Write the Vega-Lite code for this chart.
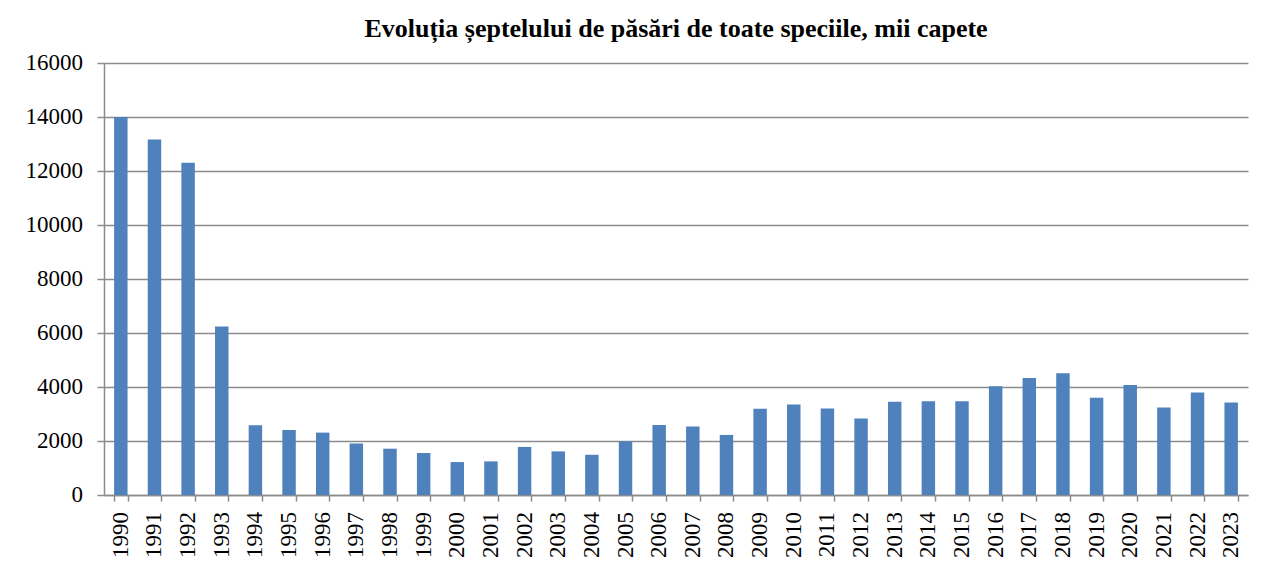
{
  "$schema": "https://vega.github.io/schema/vega-lite/v6.json",
  "width": 1144,
  "height": 432,
  "padding": {"left": 25, "top": 16, "right": 10, "bottom": 5},
  "background": "white",
  "title": {
    "text": "Evoluția șeptelului de păsări de toate speciile, mii capete",
    "font": "'Liberation Serif', 'Times New Roman', serif",
    "fontSize": 26,
    "fontWeight": "bold",
    "color": "black",
    "anchor": "middle",
    "offset": 10
  },
  "datasets": {
    "pasari": [
      {"an": "1990", "v": 14000},
      {"an": "1991", "v": 13170},
      {"an": "1992", "v": 12310},
      {"an": "1993", "v": 6240},
      {"an": "1994", "v": 2580},
      {"an": "1995", "v": 2410},
      {"an": "1996", "v": 2310},
      {"an": "1997", "v": 1910},
      {"an": "1998", "v": 1715},
      {"an": "1999", "v": 1555},
      {"an": "2000", "v": 1220},
      {"an": "2001", "v": 1245},
      {"an": "2002", "v": 1780},
      {"an": "2003", "v": 1615},
      {"an": "2004", "v": 1490},
      {"an": "2005", "v": 1990},
      {"an": "2006", "v": 2595},
      {"an": "2007", "v": 2535},
      {"an": "2008", "v": 2225},
      {"an": "2009", "v": 3190},
      {"an": "2010", "v": 3350},
      {"an": "2011", "v": 3200},
      {"an": "2012", "v": 2830},
      {"an": "2013", "v": 3450},
      {"an": "2014", "v": 3470},
      {"an": "2015", "v": 3470},
      {"an": "2016", "v": 4030},
      {"an": "2017", "v": 4335},
      {"an": "2018", "v": 4510},
      {"an": "2019", "v": 3600},
      {"an": "2020", "v": 4075},
      {"an": "2021", "v": 3245},
      {"an": "2022", "v": 3800},
      {"an": "2023", "v": 3430}
    ],
    "gradatii": [
      {"t": 0}, {"t": 2000}, {"t": 4000}, {"t": 6000}, {"t": 8000},
      {"t": 10000}, {"t": 12000}, {"t": 14000}, {"t": 16000}
    ]
  },
  "layer": [
    {
      "data": {"name": "pasari"},
      "mark": {"type": "bar", "color": "#4F81BD"},
      "encoding": {
        "x": {
          "field": "an",
          "type": "ordinal",
          "title": null,
          "scale": {"paddingInner": 0.6, "paddingOuter": 0.3},
          "axis": {
            "labels": false,
            "tickBand": "extent",
            "tickSize": 6,
            "grid": false
          }
        },
        "y": {
          "field": "v",
          "type": "quantitative",
          "title": null,
          "scale": {"domain": [0, 16000], "nice": false},
          "axis": {
            "values": [0, 2000, 4000, 6000, 8000, 10000, 12000, 14000, 16000],
            "labels": false,
            "tickSize": 7,
            "grid": true
          }
        }
      }
    },
    {
      "data": {"name": "pasari"},
      "mark": {
        "type": "text",
        "angle": 270,
        "align": "right",
        "baseline": "middle",
        "dx": -17,
        "font": "'Liberation Serif', 'Times New Roman', serif",
        "fontSize": 23,
        "color": "black"
      },
      "encoding": {
        "x": {
          "field": "an",
          "type": "ordinal",
          "title": null,
          "axis": {"labels": false, "ticks": false, "domain": false, "grid": false, "title": null}
        },
        "y": {"datum": 0, "type": "quantitative"},
        "text": {"field": "an"}
      }
    },
    {
      "data": {"name": "gradatii"},
      "mark": {
        "type": "text",
        "align": "right",
        "baseline": "middle",
        "dx": -21,
        "font": "'Liberation Serif', 'Times New Roman', serif",
        "fontSize": 23,
        "color": "black"
      },
      "encoding": {
        "x": {"datum": 0, "type": "quantitative", "scale": {"domain": [0, 1]}, "axis": null},
        "y": {"field": "t", "type": "quantitative"},
        "text": {"field": "t", "format": "d"}
      }
    }
  ],
  "resolve": {"scale": {"x": "independent"}},
  "config": {
    "view": {"stroke": null},
    "axis": {
      "tickColor": "#8c8c8c",
      "tickWidth": 1.5,
      "domainColor": "#8c8c8c",
      "domainWidth": 1.5,
      "gridColor": "#8c8c8c",
      "gridWidth": 1.5,
      "gridOpacity": 1
    }
  }
}
